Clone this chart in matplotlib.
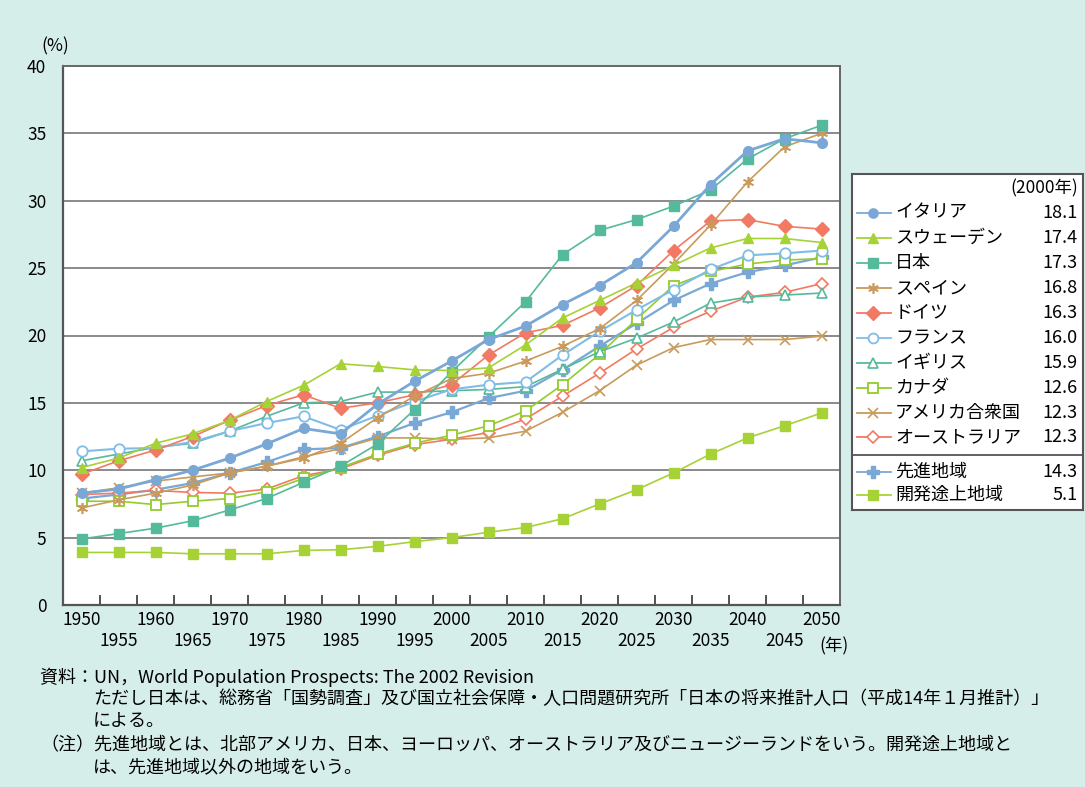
import numpy as np
import matplotlib
matplotlib.use("Agg")
import matplotlib.pyplot as plt
from matplotlib.lines import Line2D

plt.rcParams['font.family'] = ['Noto Sans CJK JP', 'DejaVu Sans']

years = list(range(1950, 2051, 5))

italy = [8.3, 8.6, 9.3, 10.0, 10.9, 11.95, 13.1, 12.7, 14.9, 16.6, 18.1, 19.7, 20.7, 22.3, 23.7, 25.4, 28.1, 31.2, 33.7, 34.6, 34.3]
sweden = [10.2, 10.9, 12.0, 12.7, 13.7, 15.1, 16.3, 17.9, 17.7, 17.45, 17.4, 17.6, 19.3, 21.3, 22.6, 23.9, 25.2, 26.5, 27.2, 27.2, 26.9]
japan = [4.9, 5.3, 5.7, 6.25, 7.05, 7.9, 9.1, 10.3, 11.95, 14.5, 17.3, 19.9, 22.5, 26.0, 27.8, 28.6, 29.6, 30.8, 33.1, 34.6, 35.6]
spain = [7.2, 7.8, 8.3, 8.9, 9.8, 10.3, 10.9, 12.0, 13.9, 15.5, 16.8, 17.2, 18.1, 19.2, 20.5, 22.6, 25.3, 28.2, 31.4, 34.0, 35.0]
germany = [9.7, 10.7, 11.5, 12.5, 13.7, 14.8, 15.6, 14.6, 15.0, 15.6, 16.35, 18.55, 20.2, 20.75, 22.05, 23.7, 26.3, 28.5, 28.6, 28.1, 27.9]
france = [11.4, 11.6, 11.65, 12.1, 12.9, 13.5, 14.0, 13.0, 14.05, 15.1, 16.0, 16.35, 16.55, 18.55, 20.3, 21.9, 23.4, 24.9, 25.95, 26.1, 26.3]
uk = [10.7, 11.2, 11.7, 12.0, 12.9, 14.0, 15.0, 15.1, 15.8, 15.8, 15.9, 16.0, 16.2, 17.5, 18.8, 19.8, 21.0, 22.4, 22.85, 23.0, 23.15]
canada = [7.7, 7.7, 7.45, 7.7, 7.9, 8.4, 9.4, 10.2, 11.2, 12.0, 12.6, 13.3, 14.4, 16.35, 18.6, 21.2, 23.7, 24.75, 25.3, 25.6, 25.7]
usa = [8.3, 8.7, 9.2, 9.5, 9.8, 10.3, 11.0, 11.6, 12.4, 12.4, 12.3, 12.4, 12.9, 14.3, 15.9, 17.8, 19.1, 19.7, 19.7, 19.7, 19.95]
australia = [8.2, 8.3, 8.5, 8.35, 8.3, 8.6, 9.6, 10.1, 11.1, 11.9, 12.3, 12.8, 13.8, 15.5, 17.2, 19.0, 20.6, 21.8, 22.85, 23.2, 23.85]
developed = [7.9, 8.2, 8.55, 9.05, 9.8, 10.6, 11.55, 11.65, 12.5, 13.5, 14.3, 15.35, 15.9, 17.45, 19.2, 20.9, 22.6, 23.85, 24.7, 25.2, 25.8]
developing = [3.9, 3.9, 3.9, 3.8, 3.8, 3.8, 4.05, 4.1, 4.35, 4.7, 5.0, 5.4, 5.75, 6.4, 7.5, 8.55, 9.8, 11.2, 12.4, 13.3, 14.25]

names = ['イタリア', 'スウェーデン', '日本', 'スペイン', 'ドイツ', 'フランス', 'イギリス',
         'カナダ', 'アメリカ合衆国', 'オーストラリア', '先進地域', '開発途上地域']
values_2000 = ['18.1', '17.4', '17.3', '16.8', '16.3', '16.0', '15.9', '12.6', '12.3', '12.3', '14.3', '5.1']
series = [italy, sweden, japan, spain, germany, france, uk, canada, usa, australia, developed, developing]

BLUE = '#7AA8D6'
LBLUE = '#80BDE6'
LIME = '#A6D236'
TEAL = '#55BA9B'
TAN = '#C99A5C'
SALMON = '#F27A64'
CLIME = '#93CC2C'

styles = [
    dict(color=BLUE, marker='o', mfc=BLUE, ms=7, lw=2.0),
    dict(color=LIME, marker='^', mfc=LIME, ms=7.5, lw=1.2),
    dict(color=TEAL, marker='s', mfc=TEAL, ms=7, lw=1.2),
    dict(color=TAN, marker=(6, 2, 0), mfc=TAN, ms=8, lw=1.2, mew=1.2),
    dict(color=SALMON, marker='D', mfc=SALMON, ms=7, lw=1.2),
    dict(color=LBLUE, marker='o', mfc='white', ms=7.5, lw=1.5, mew=1.3),
    dict(color=TEAL, marker='^', mfc='white', ms=7.5, lw=1.2, mew=1.2),
    dict(color=CLIME, marker='s', mfc='white', ms=7, lw=1.2, mew=1.3),
    dict(color=TAN, marker='x', mfc=TAN, ms=7, lw=1.2, mew=1.2),
    dict(color=SALMON, marker='D', mfc='white', ms=6.5, lw=1.2, mew=1.2),
    dict(color=BLUE, marker='P', mfc=BLUE, ms=8.5, lw=1.6),
    dict(color=LIME, marker='s', mfc=LIME, ms=7, lw=1.2),
]

BG = '#D6EEEA'
fig = plt.figure(figsize=(10.85, 7.87), dpi=100, facecolor=BG)
ax = fig.add_axes([63/1085, 1-605/787, (840-63)/1085, (605-66)/787])
ax.set_facecolor('white')

x = np.arange(len(years))
order = list(range(len(series)))[::-1]
for z, i in enumerate(order):
    st = styles[i]
    ax.plot(x, series[i], color=st['color'], lw=st['lw'], marker=st['marker'],
            ms=st['ms'], mfc=st['mfc'], mec=st['color'], mew=st.get('mew', 1.0),
            zorder=3 + z)

ax.set_xlim(-0.5, len(years) - 0.5)
ax.set_ylim(0, 40)
ax.set_yticks(np.arange(0, 41, 5))
ax.set_yticklabels([str(v) for v in range(0, 41, 5)], fontsize=12.5)
ax.tick_params(axis='y', length=0, pad=12)

ax.set_xticks(np.arange(0.5, len(years) - 1, 1))
ax.set_xticklabels([])
ax.tick_params(axis='x', which='major', direction='in', length=7, width=1.3, color='#444444')
ax.set_xticks(x, minor=True)
ax.set_xticklabels([str(y) if i % 2 == 0 else '\n' + str(y) for i, y in enumerate(years)],
                   minor=True, fontsize=12.5, linespacing=1.25)
ax.tick_params(axis='x', which='minor', length=0, pad=4)

for v in range(5, 40, 5):
    ax.axhline(v, color='#8a8a8a', lw=1.4, zorder=1)
for s in ['left', 'bottom']:
    ax.spines[s].set_color('#555555')
    ax.spines[s].set_linewidth(1.6)
for s in ['top', 'right']:
    ax.spines[s].set_color('#666666')
    ax.spines[s].set_linewidth(1.4)

fig.text(55/1085, 1-46/787, '(%)', fontsize=12.5, ha='center', va='center')
fig.text(834/1085, 1-646/787, '(年)', fontsize=12.5, ha='center', va='center')

# legend box
lg = fig.add_axes([852/1085, 1-510/787, 231/1085, 336/787])
lg.set_xlim(0, 231)
lg.set_ylim(336, 0)
lg.set_facecolor('white')
lg.set_xticks([])
lg.set_yticks([])
for s in lg.spines.values():
    s.set_color('#555555')
    s.set_linewidth(1.5)
lg.text(226, 14, '(2000年)', fontsize=12.5, ha='right', va='center')
row_y = [38.7, 64, 89, 114, 139, 164, 189, 214, 239, 263, 298, 321]
for i, yy in enumerate(row_y):
    st = styles[i]
    lg.add_line(Line2D([5, 39], [yy, yy], color=st['color'], lw=1.3))
    lg.plot([21], [yy], marker=st['marker'], ms=st['ms'] * 0.95, mfc=st['mfc'],
            mec=st['color'], mew=st.get('mew', 1.0), color=st['color'])
    lg.text(43, yy, names[i], fontsize=13, ha='left', va='center')
    lg.text(226, yy, values_2000[i], fontsize=13, ha='right', va='center')
lg.add_line(Line2D([0, 231], [281, 281], color='#555555', lw=1.3))

# notes
fs = 13.0
fig.text(40/1085, 1-677/787, '資料：UN，World Population Prospects: The 2002 Revision', fontsize=fs, va='center')
fig.text(93/1085, 1-699/787, 'ただし日本は、総務省「国勢調査」及び国立社会保障・人口問題研究所「日本の将来推計人口（平成14年１月推計）」',
         fontsize=fs, va='center')
fig.text(93/1085, 1-721/787, 'による。', fontsize=fs, va='center')
fig.text(40/1085, 1-745/787, '（注）先進地域とは、北部アメリカ、日本、ヨーロッパ、オーストラリア及びニュージーランドをいう。開発途上地域と',
         fontsize=fs, va='center')
fig.text(93/1085, 1-767/787, 'は、先進地域以外の地域をいう。', fontsize=fs, va='center')

fig.savefig('out.png', dpi=100, facecolor=BG)
